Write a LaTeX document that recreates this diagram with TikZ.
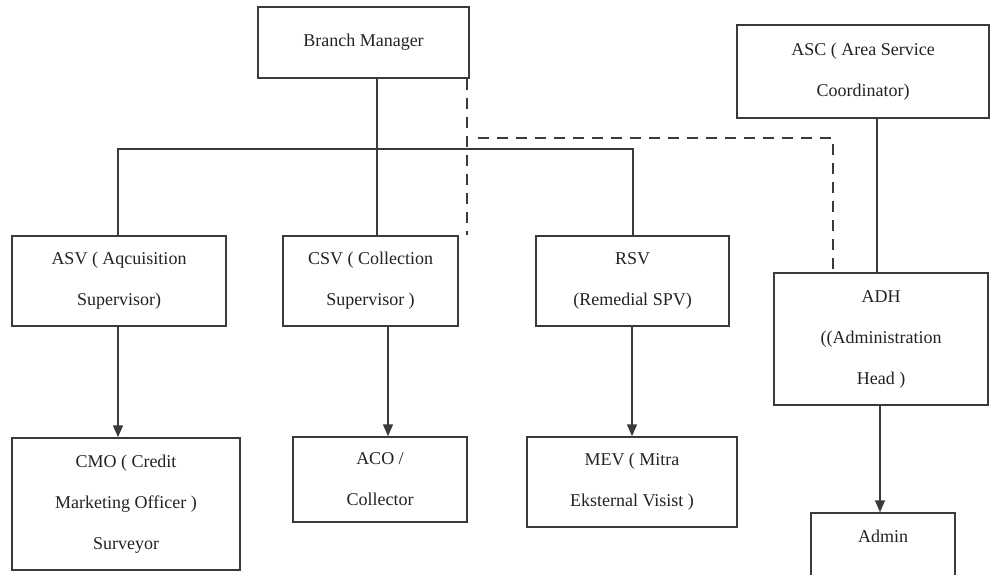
\documentclass[tikz,border=0pt]{standalone}
\usepackage{fontspec}
\setmainfont{Liberation Serif}
\usetikzlibrary{arrows.meta}
\definecolor{ln}{HTML}{3A3A3A}
\definecolor{tx}{HTML}{222222}
\tikzset{
  box/.style={draw=ln, line width=1.5pt, inner sep=0pt, align=center, text=tx,
    font=\fontsize{18}{41}\selectfont},
  link/.style={draw=ln, line width=1.5pt},
  dlink/.style={draw=ln, line width=1.5pt, dash pattern=on 11pt off 8pt},
  arr/.style={draw=ln, line width=1.5pt, -{Triangle[length=12pt,width=10pt]}},
}
\begin{document}
\begin{tikzpicture}[x=1pt,y=-1pt]
\useasboundingbox (0,0) rectangle (990,575);
\clip (0,0) rectangle (990,575);
\node[box, minimum width=211pt, minimum height=71pt] (bm) at (363.5,42.5) {Branch Manager};
\node[box, minimum width=252pt, minimum height=93pt] (asc) at (863,71.5) {ASC ( Area Service\\Coordinator)};
\node[box, minimum width=214pt, minimum height=90pt] (asv) at (119,281) {ASV ( Aqcuisition\\Supervisor)};
\node[box, minimum width=175pt, minimum height=90pt] (csv) at (370.5,281) {CSV ( Collection\\Supervisor )};
\node[box, minimum width=193pt, minimum height=90pt] (rsv) at (632.5,281) {RSV\\(Remedial SPV)};
\node[box, minimum width=214pt, minimum height=132pt] (adh) at (881,339) {ADH\\((Administration\\Head )};
\node[box, minimum width=228pt, minimum height=132pt] (cmo) at (126,504) {CMO ( Credit\\Marketing Officer )\\Surveyor};
\node[box, minimum width=174pt, minimum height=85pt] (aco) at (380,479.5) {ACO /\\Collector};
\node[box, minimum width=210pt, minimum height=90pt] (mev) at (632,482) {MEV ( Mitra\\Eksternal Visist )};
\node[box, minimum width=144pt, minimum height=80pt] (admin) at (883,553) {};
\node[box, draw=none] (admintxt) at (883,536) {Admin};
% solid hierarchy
\coordinate (j) at (377,149);
\coordinate (jl) at (118,149);
\coordinate (jr) at (633,149);
\draw[link] (bm.south -| j) -- (csv.north -| j);
\draw[link] (asv.north -| jl) -- (jl) -- (jr) -- (rsv.north -| jr);
% dashed link to CSV
\coordinate (dv) at (467,0);
\draw[dlink] (bm.south -| dv) -- (csv.north -| dv);
% dashed link to ADH
\coordinate (ds) at (478,138);
\coordinate (de) at (833,138);
\draw[dlink] (ds) -- (de) -- (adh.north -| de);
% ASC to ADH
\coordinate (av) at (877,0);
\draw[link] (asc.south -| av) -- (adh.north -| av);
% arrows
\coordinate (lv) at (118,0);
\draw[arr] (asv.south -| lv) -- (cmo.north -| lv);
\coordinate (cv) at (388,0);
\draw[arr] (csv.south -| cv) -- (aco.north -| cv);
\draw[arr] (rsv.south -| mev.north) -- (mev.north);
\coordinate (hv) at (880,0);
\draw[arr] (adh.south -| hv) -- (admin.north -| hv);
\end{tikzpicture}
\end{document}
